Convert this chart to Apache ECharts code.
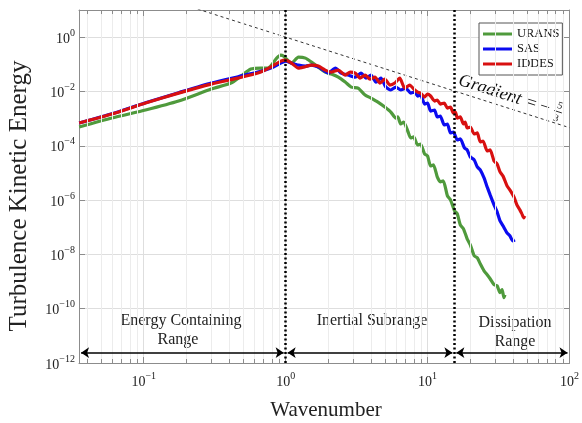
<!DOCTYPE html>
<html>
<head>
<meta charset="utf-8">
<script src="https://cdn.jsdelivr.net/npm/echarts@6/dist/echarts.min.js"></script>
<style>
  html, body { margin: 0; padding: 0; background: #fff; }
  #chart { width: 582px; height: 423px; }
</style>
</head>
<body>
<div id="chart"></div>
<script>
// spectra: [wavenumber, turbulence kinetic energy]
const urans = [
  [0.0351, 4.91e-4], [0.0597, 1.05e-3], [0.103, 2.07e-3], [0.176, 4.44e-3], [0.299, 1.23e-2],
  [0.412, 2.04e-2], [0.484, 3.68e-2], [0.569, 6.66e-2], [0.668, 7.25e-2], [0.748, 7.25e-2],
  [0.785, 8.59e-2], [0.865, 0.169], [0.923, 0.218], [0.968, 0.2], [1.0, 0.169],
  [1.10, 0.111], [1.23, 0.184], [1.38, 0.169], [1.52, 0.12], [1.70, 0.0789],
  [1.90, 0.0517], [2.10, 0.0436], [2.35, 0.0338], [2.63, 0.0222], [2.90, 0.0145],
  [3.24, 0.0133], [3.63, 7.38e-3], [3.99, 5.72e-3], [4.47, 4.07e-3], [5.00, 2.67e-3],
  [5.51, 1.75e-3], [5.97, 1.05e-3], [6.17, 1.15e-3], [6.47, 6.33e-4], [6.79, 7.5e-4],
  [7.25, 3.5e-4], [7.60, 1.94e-4], [7.98, 2.11e-4], [8.51, 1.07e-4], [8.93, 1.16e-4],
  [9.53, 5.0e-5], [10.0, 4.22e-5], [10.5, 1.81e-5], [11.0, 1.97e-5], [11.7, 7.13e-6],
  [12.3, 4.67e-6], [12.9, 5.08e-6], [13.8, 1.43e-6], [14.5, 1.02e-6], [15.5, 4.01e-7],
  [16.2, 3.11e-7], [17.0, 1.23e-7], [17.9, 8.73e-8], [19.0, 3.75e-8], [20.0, 2.25e-8],
  [21.3, 8.89e-9], [22.4, 7.5e-9], [23.5, 4.51e-9], [25.0, 2.49e-9], [26.3, 1.78e-9],
  [27.6, 1.27e-9], [29.4, 7.63e-10], [30.9, 7.01e-10], [32.4, 3.88e-10], [33.5, 5.0e-10],
  [34.5, 2.54e-10], [35.1, 3.27e-10]
]
const sas = [
  [0.0351, 6.9e-4], [0.0597, 1.5e-3], [0.103, 3.85e-3], [0.176, 9.0e-3], [0.299, 2.04e-2],
  [0.462, 3.5e-2], [0.637, 5.17e-2], [0.785, 7.25e-2], [0.923, 0.111], [1.0, 0.131],
  [1.10, 0.111], [1.23, 0.0935], [1.38, 0.0859], [1.52, 0.0935], [1.70, 0.0789],
  [1.84, 0.0612], [2.00, 0.0475], [2.24, 0.0725], [2.46, 0.0475], [2.76, 0.0401],
  [3.09, 0.0338], [3.40, 0.0475], [3.68, 0.0311], [3.99, 0.0401], [4.33, 0.0222],
  [4.69, 0.0311], [5.08, 0.0145], [5.51, 0.0113], [5.97, 0.0145], [6.47, 0.0113],
  [7.01, 0.0133], [7.60, 8.73e-3], [8.11, 9.5e-3], [8.51, 6.78e-3], [8.93, 7.38e-3],
  [9.53, 3.44e-3], [10.0, 3.75e-3], [10.5, 1.9e-3], [11.2, 2.07e-3], [11.7, 1.15e-3],
  [12.3, 1.25e-3], [13.1, 5.82e-4], [13.8, 6.33e-4], [14.5, 2.96e-4], [15.2, 3.22e-4],
  [16.2, 1.63e-4], [17.0, 1.78e-4], [18.2, 8.3e-5], [19.0, 7.01e-5], [20.0, 3.87e-5],
  [21.3, 3.01e-5], [22.4, 1.66e-5], [23.5, 1.29e-5], [25.0, 6.55e-6], [26.3, 3.06e-6],
  [27.6, 1.55e-6], [29.4, 6.66e-7], [30.9, 3.68e-7], [32.4, 1.72e-7], [34.0, 1.13e-7],
  [36.3, 6.22e-8], [38.0, 4.83e-8], [39.9, 3.16e-8], [41.2, 3.44e-8]
]
const iddes = [
  [0.0351, 6.9e-4], [0.0597, 1.48e-3], [0.103, 3.75e-3], [0.176, 8.7e-3], [0.299, 1.87e-2],
  [0.462, 3.11e-2], [0.637, 4.75e-2], [0.785, 7.9e-2], [0.923, 0.131], [1.0, 0.143],
  [1.10, 0.111], [1.23, 0.0725], [1.34, 0.079], [1.52, 0.0935], [1.70, 0.0859],
  [1.90, 0.0612], [2.10, 0.0517], [2.35, 0.0612], [2.63, 0.0401], [2.85, 0.0517],
  [3.09, 0.0475], [3.34, 0.0311], [3.63, 0.0401], [3.93, 0.0286], [4.26, 0.0338],
  [4.62, 0.0204], [5.00, 0.0286], [5.42, 0.0172], [5.88, 0.0204], [6.37, 0.0311],
  [6.90, 0.0133], [7.48, 0.0172], [8.11, 0.0113], [8.51, 9.5e-3], [8.93, 8.73e-3],
  [9.53, 6.23e-3], [10.0, 8.0e-3], [10.5, 6.8e-3], [11.2, 4.44e-3], [11.7, 4.83e-3],
  [12.3, 3.44e-3], [13.1, 3.75e-3], [13.8, 2.45e-3], [14.5, 2.67e-3], [15.2, 1.61e-3],
  [15.7, 1.75e-3], [16.2, 1.05e-3], [17.0, 1.15e-3], [17.9, 6.33e-4], [18.4, 7.5e-4],
  [19.0, 4.51e-4], [20.0, 4.91e-4], [21.3, 2.72e-4], [22.4, 2.96e-4], [23.5, 1.38e-4],
  [24.6, 1.5e-4], [26.3, 6.44e-5], [27.6, 7.01e-5], [29.4, 2.76e-5], [30.9, 2.14e-5],
  [32.4, 1.09e-5], [34.0, 7.76e-6], [36.3, 3.33e-6], [38.0, 2.37e-6], [40.6, 1.31e-6],
  [42.6, 6.66e-7], [44.7, 4.36e-7], [46.2, 3.11e-7], [47.7, 2.22e-7], [48.4, 2.6e-7]
]
// -5/3 reference line
const gradientLine = [[0.24, 10.8], [100, 4.64e-4]]
// range boundaries and the arrows under them
const rangeBounds = [1, 15.5]
const arrowSpans = [[0.0362, 0.968], [1.033, 14.96], [15.95, 96.8]]
const arrowLevel = 2.4e-12
const minorX = [0.04, 0.05, 0.06, 0.07, 0.08, 0.09, 0.2, 0.3, 0.4, 0.5, 0.6, 0.7, 0.8, 0.9,
  2, 3, 4, 5, 6, 7, 8, 9, 20, 30, 40, 50, 60, 70, 80, 90]

const serif = '"Liberation Serif", "DejaVu Serif", serif'
const axisGray = '#8c8c8c'

function powLabel(v) {
  const e = Math.log10(v)
  const r = Math.round(e)
  if (Math.abs(e - r) > 1e-6) return ''
  return '{b|10}{s|' + (r < 0 ? '\u2212' + -r : r) + '}'
}
function powLabelY(v) {
  const r = Math.round(Math.log10(v))
  if (r > 0) return ''
  return powLabel(v)
}
const labelRich = {
  b: { fontSize: 14, fontFamily: serif, color: '#222', lineHeight: 18, verticalAlign: 'bottom' },
  s: { fontSize: 10, fontFamily: serif, color: '#222', lineHeight: 9, verticalAlign: 'top' },
}
const centered = { align: 'center', verticalAlign: 'middle', textAlign: 'center', textVerticalAlign: 'middle' }

const chart = echarts.init(document.getElementById('chart'))

const minorGrid = minorX.map((v) => ({ xAxis: v }))
const minorTicks = []
minorX.forEach((v) => {
  minorTicks.push([{ coord: [v, 1e-12] }, { coord: [v, 1.4e-12] }])
  minorTicks.push([{ coord: [v, 10] }, { coord: [v, 7.1] }])
})

const option = {
  animation: false,
  backgroundColor: '#fff',
  grid: { left: 79, top: 10, right: 10, bottom: 60 },
  legend: {
    data: ['URANS', 'SAS', 'IDDES'],
    icon: 'rect',
    orient: 'vertical',
    left: 479,
    top: 23,
    itemWidth: 29,
    itemHeight: 3,
    itemGap: 1,
    padding: [4, 3, 4, 4],
    borderColor: '#555',
    borderWidth: 1,
    backgroundColor: '#fff',
    textStyle: { fontFamily: serif, fontSize: 12.5, lineHeight: 14, color: '#111' },
  },
  xAxis: [
    {
      type: 'log', logBase: 10, min: 0.035, max: 100, position: 'bottom',
      axisLine: { lineStyle: { color: axisGray } },
      axisTick: { inside: true, length: 6, lineStyle: { color: axisGray } },
      axisLabel: { formatter: powLabel, rich: labelRich, margin: 8 },
      splitLine: { show: true, lineStyle: { color: '#dedede' } },
    },
    {
      type: 'log', logBase: 10, min: 0.035, max: 100, position: 'top',
      axisLine: { lineStyle: { color: axisGray } },
      axisTick: { inside: true, length: 6, lineStyle: { color: axisGray } },
      axisLabel: { show: false },
      splitLine: { show: false },
    },
  ],
  yAxis: [
    {
      type: 'log', logBase: 100, min: 1e-12, max: 10, position: 'left',
      axisLine: { lineStyle: { color: axisGray } },
      axisTick: { inside: true, length: 6, lineStyle: { color: axisGray } },
      axisLabel: { formatter: powLabelY, rich: labelRich, margin: 4 },
      splitLine: { show: true, lineStyle: { color: '#dedede' } },
    },
    {
      type: 'log', logBase: 100, min: 1e-12, max: 10, position: 'right',
      axisLine: { lineStyle: { color: axisGray } },
      axisTick: { inside: true, length: 6, lineStyle: { color: axisGray } },
      axisLabel: { show: false },
      splitLine: { show: false },
    },
  ],
  series: [
    {
      name: 'gradient',
      type: 'line',
      data: gradientLine,
      symbol: 'none',
      z: 1,
      lineStyle: { color: '#333', width: 1, type: [3, 3] },
      markLine: {
        silent: true,
        symbol: 'none',
        label: { show: false },
        lineStyle: { color: '#ececec', width: 1, type: 'solid' },
        data: minorGrid,
      },
    },
    {
      name: 'ticks',
      type: 'line',
      data: [],
      symbol: 'none',
      z: 1,
      markLine: {
        silent: true,
        symbol: 'none',
        label: { show: false },
        lineStyle: { color: axisGray, width: 1, type: 'solid' },
        data: minorTicks,
      },
    },
    {
      name: 'URANS', type: 'line', data: urans, symbol: 'none', smooth: 0.2, z: 3,
      itemStyle: { color: '#4f9a3c' },
      lineStyle: { color: '#4f9a3c', width: 3.2 },
    },
    {
      name: 'SAS', type: 'line', data: sas, symbol: 'none', smooth: 0.2, z: 3,
      itemStyle: { color: '#0b0bf0' },
      lineStyle: { color: '#0b0bf0', width: 3.2 },
    },
    {
      name: 'IDDES', type: 'line', data: iddes, symbol: 'none', smooth: 0.2, z: 3,
      itemStyle: { color: '#d81010' },
      lineStyle: { color: '#d81010', width: 3.2 },
    },
    {
      name: 'bounds',
      type: 'line',
      data: [],
      symbol: 'none',
      z: 5,
      markLine: {
        silent: true,
        symbol: 'none',
        label: { show: false },
        lineStyle: { color: '#000', width: 2.5, type: [2, 2.5] },
        data: rangeBounds.map((v) => ({ xAxis: v })),
      },
    },
    {
      name: 'arrows',
      type: 'line',
      data: [],
      symbol: 'none',
      z: 5,
      markLine: {
        silent: true,
        symbol: ['arrow', 'arrow'],
        symbolSize: 8,
        label: { show: false },
        lineStyle: { color: '#000', width: 1.5, type: 'solid' },
        data: arrowSpans.map((s) => [{ coord: [s[0], arrowLevel] }, { coord: [s[1], arrowLevel] }]),
      },
    },
  ],
  graphic: [
    { type: 'text', x: 326, y: 410, style: Object.assign({ text: 'Wavenumber', font: '21px ' + serif, fill: '#222' }, centered) },
    { type: 'text', x: 19, y: 196, rotation: Math.PI / 2, style: Object.assign({ text: 'Turbulence Kinetic Energy', font: '25px ' + serif, fill: '#222' }, centered) },
    { type: 'text', x: 181, y: 321, style: Object.assign({ text: 'Energy Containing', font: '16px ' + serif, fill: '#222' }, centered) },
    { type: 'text', x: 178, y: 340, style: Object.assign({ text: 'Range', font: '16px ' + serif, fill: '#222' }, centered) },
    { type: 'text', x: 372, y: 321, style: Object.assign({ text: 'Inertial Subrange', font: '16px ' + serif, fill: '#222' }, centered) },
    { type: 'text', x: 515, y: 323, style: Object.assign({ text: 'Dissipation', font: '16px ' + serif, fill: '#222' }, centered) },
    { type: 'text', x: 515, y: 342, style: Object.assign({ text: 'Range', font: '16px ' + serif, fill: '#222' }, centered) },
    {
      type: 'group', x: 459, y: 80, rotation: -0.31,
      children: [
        { type: 'text', x: 0, y: 0, style: { text: 'Gradient', font: 'italic 18px ' + serif, fill: '#111', align: 'left', verticalAlign: 'middle', textAlign: 'left', textVerticalAlign: 'middle' } },
        { type: 'text', x: 76, y: 0, style: Object.assign({ text: '=', font: '18px ' + serif, fill: '#111' }, centered) },
        { type: 'text', x: 90, y: 0, style: Object.assign({ text: '\u2212', font: '18px ' + serif, fill: '#111' }, centered) },
        { type: 'text', x: 104, y: -6, style: Object.assign({ text: '5', font: '10px ' + serif, fill: '#111' }, centered) },
        { type: 'line', shape: { x1: 100, y1: 0, x2: 108, y2: 0 }, style: { stroke: '#111', lineWidth: 0.8 } },
        { type: 'text', x: 104, y: 7, style: Object.assign({ text: '3', font: '10px ' + serif, fill: '#111' }, centered) },
      ],
    },
  ],
}

chart.setOption(option)
</script>
</body>
</html>
